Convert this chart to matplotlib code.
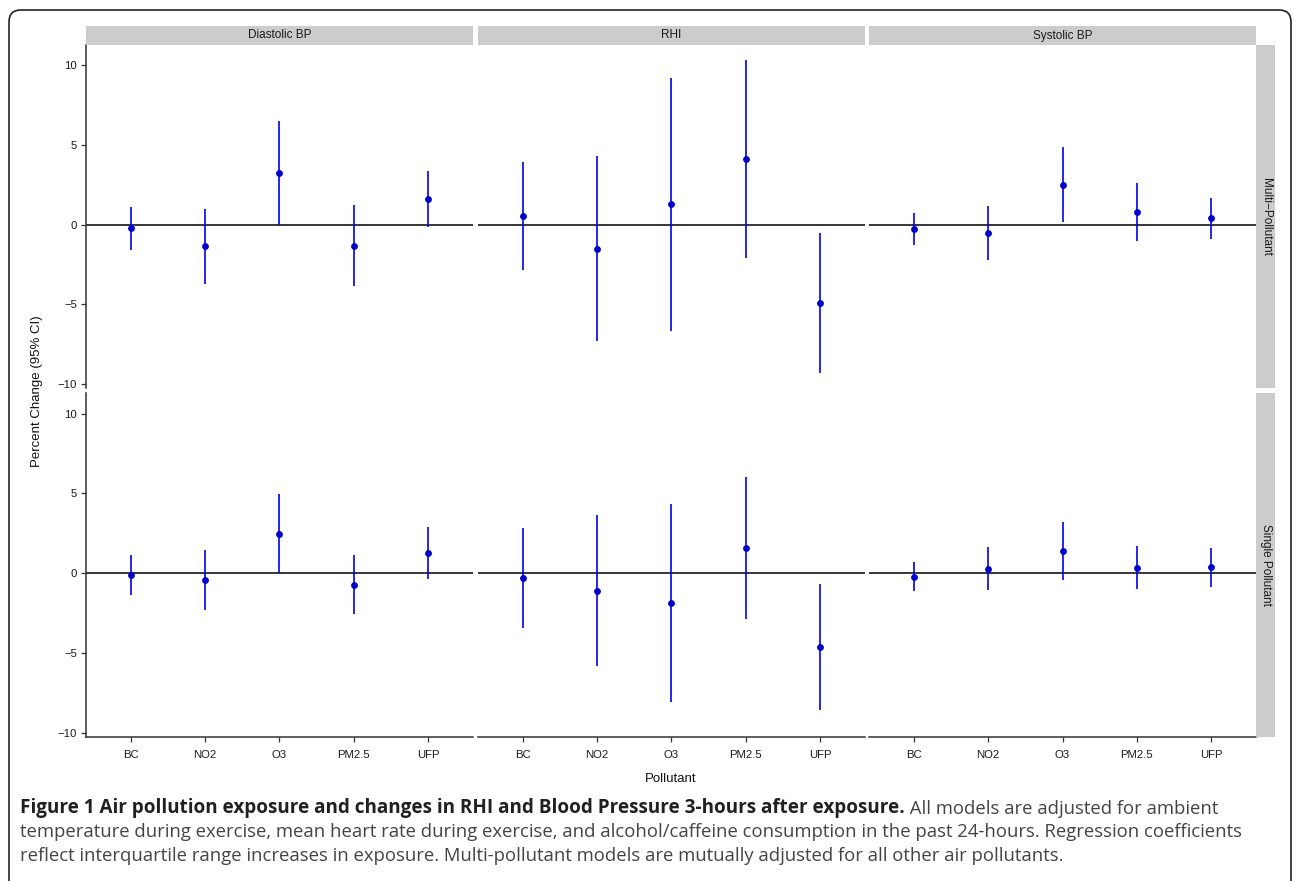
import matplotlib.pyplot as plt
from matplotlib.patches import FancyBboxPatch, Rectangle
from matplotlib.transforms import IdentityTransform

pollutants = ["BC", "NO2", "O3", "PM2.5", "UFP"]
outcomes = ["Diastolic BP", "RHI", "Systolic BP"]
models = ["Multi\u2212Pollutant", "Single Pollutant"]

# multi-pollutant models (estimate, lower CI, upper CI)
multi_dbp_est = [-0.23, -1.35, 3.26, -1.31, 1.61]
multi_dbp_lo = [-1.58, -3.69, 0.0, -3.86, -0.13]
multi_dbp_hi = [1.13, 0.98, 6.49, 1.25, 3.36]

multi_rhi_est = [0.54, -1.50, 1.28, 4.11, -4.90]
multi_rhi_lo = [-2.82, -7.28, -6.64, -2.07, -9.27]
multi_rhi_hi = [3.93, 4.30, 9.17, 10.29, -0.52]

multi_sbp_est = [-0.25, -0.54, 2.50, 0.80, 0.40]
multi_sbp_lo = [-1.25, -2.23, 0.15, -1.04, -0.88]
multi_sbp_hi = [0.75, 1.15, 4.85, 2.63, 1.67]

# single pollutant models
single_dbp_est = [-0.10, -0.42, 2.47, -0.73, 1.27]
single_dbp_lo = [-1.38, -2.34, 0.0, -2.55, -0.36]
single_dbp_hi = [1.15, 1.48, 4.99, 1.11, 2.90]

single_rhi_est = [-0.29, -1.09, -1.88, 1.55, -4.64]
single_rhi_lo = [-3.41, -5.79, -8.09, -2.90, -8.59]
single_rhi_hi = [2.82, 3.62, 4.33, 6.00, -0.69]

single_sbp_est = [-0.23, 0.29, 1.40, 0.33, 0.36]
single_sbp_lo = [-1.15, -1.07, -0.40, -1.00, -0.84]
single_sbp_hi = [0.67, 1.63, 3.20, 1.67, 1.55]

yticks = [-10, -5, 0, 5, 10]

panels = [
    [(multi_dbp_est, multi_dbp_lo, multi_dbp_hi),
     (multi_rhi_est, multi_rhi_lo, multi_rhi_hi),
     (multi_sbp_est, multi_sbp_lo, multi_sbp_hi)],
    [(single_dbp_est, single_dbp_lo, single_dbp_hi),
     (single_rhi_est, single_rhi_lo, single_rhi_hi),
     (single_sbp_est, single_sbp_lo, single_sbp_hi)],
]

plt.rcParams['font.family'] = ['Liberation Sans', 'DejaVu Sans']

W, H = 1293, 881
fig = plt.figure(figsize=(W / 100, H / 100), dpi=100)

def fx(px):
    return px / W

def fy(py):
    return 1 - py / H

col_x = [(86, 472.7), (478, 864.7), (869, 1256)]
row_y = [(44.7, 388.3), (393.3, 736.7)]
x = list(range(1, len(pollutants) + 1))

for r in range(2):
    for c in range(3):
        x0, x1 = col_x[c]
        y0, y1 = row_y[r]
        ax = fig.add_axes([fx(x0), fy(y1), fx(x1 - x0), (y1 - y0) / H])
        est, lo, hi = panels[r][c]
        ax.axhline(0, color='black', lw=1.1, zorder=1)
        ax.vlines(x, lo, hi, color='#0000ee', lw=1.2, zorder=2)
        ax.plot(x, est, 'o', color='#0000cc', ms=3.9, zorder=3)
        ax.set_xlim(0.4, 5.6)
        ax.set_ylim(-10.25, 11.27)
        ax.set_xticks(x)
        ax.set_xticklabels(pollutants)
        ax.set_yticks(yticks)
        for s in ax.spines.values():
            s.set_visible(False)
        ax.tick_params(length=3.3, width=0.9, color='#333333', labelsize=8.2,
                       labelcolor='#1a1a1a')
        ax.tick_params(axis='x', pad=6)
        ax.tick_params(axis='y', pad=3)
        if c == 0:
            ax.spines['left'].set_visible(True)
            ax.spines['left'].set_color('#333333')
            ax.spines['left'].set_linewidth(1.1)
        else:
            ax.tick_params(left=False, labelleft=False)
        if r == 1:
            ax.spines['bottom'].set_visible(True)
            ax.spines['bottom'].set_color('#333333')
            ax.spines['bottom'].set_linewidth(1.1)
        else:
            ax.tick_params(bottom=False, labelbottom=False)

# facet strips
for c in range(3):
    x0, x1 = col_x[c]
    fig.add_artist(Rectangle((fx(x0), fy(44.7)), fx(x1 - x0), 18.7 / H,
                             transform=fig.transFigure, color='#cccccc', lw=0))
    fig.text(fx((x0 + x1) / 2), fy(35.5), outcomes[c], ha='center', va='center',
             fontsize=8.5, color='#1a1a1a')
for r in range(2):
    y0, y1 = row_y[r]
    fig.add_artist(Rectangle((fx(1256), fy(y1)), fx(19), (y1 - y0) / H,
                             transform=fig.transFigure, color='#cccccc', lw=0))
    fig.text(fx(1265.5), fy((y0 + y1) / 2), models[r], ha='center', va='center',
             rotation=-90, fontsize=8.5, color='#1a1a1a')

fig.text(fx(37), fy(390.7), "Percent Change (95% CI)", rotation=90,
         ha='center', va='center', fontsize=9.5, color='#111111')
fig.text(fx(671), fy(779), "Pollutant", ha='center', va='center',
         fontsize=9.5, color='#111111')

# outer rounded frame
frame = FancyBboxPatch((9, -30), 1282, H - 10 + 30,
                       boxstyle="round,pad=0,rounding_size=12",
                       transform=IdentityTransform(), fill=False,
                       ec='#222222', lw=1.2)
fig.add_artist(frame)

# caption
cap_font = ['Open Sans', 'DejaVu Sans']
bold = fig.text(fx(20), fy(813), "Figure 1 Air pollution exposure and changes in RHI and Blood Pressure 3-hours after exposure.",
                fontsize=13.6, fontweight='bold', color='#231f20', family=cap_font, va='baseline')
fig.add_artist(plt.Annotation(" All models are adjusted for ambient", xy=(1, 0), xycoords=bold,
                              va='bottom', ha='left', fontsize=13.3, color='#444444', family=cap_font))
fig.text(fx(20), fy(837), "temperature during exercise, mean heart rate during exercise, and alcohol/caffeine consumption in the past 24-hours. Regression coefficients",
         fontsize=13.3, color='#444444', family=cap_font, va='baseline')
fig.text(fx(20), fy(861), "reflect interquartile range increases in exposure. Multi-pollutant models are mutually adjusted for all other air pollutants.",
         fontsize=13.3, color='#444444', family=cap_font, va='baseline')

fig.savefig("out.png", dpi=100)
